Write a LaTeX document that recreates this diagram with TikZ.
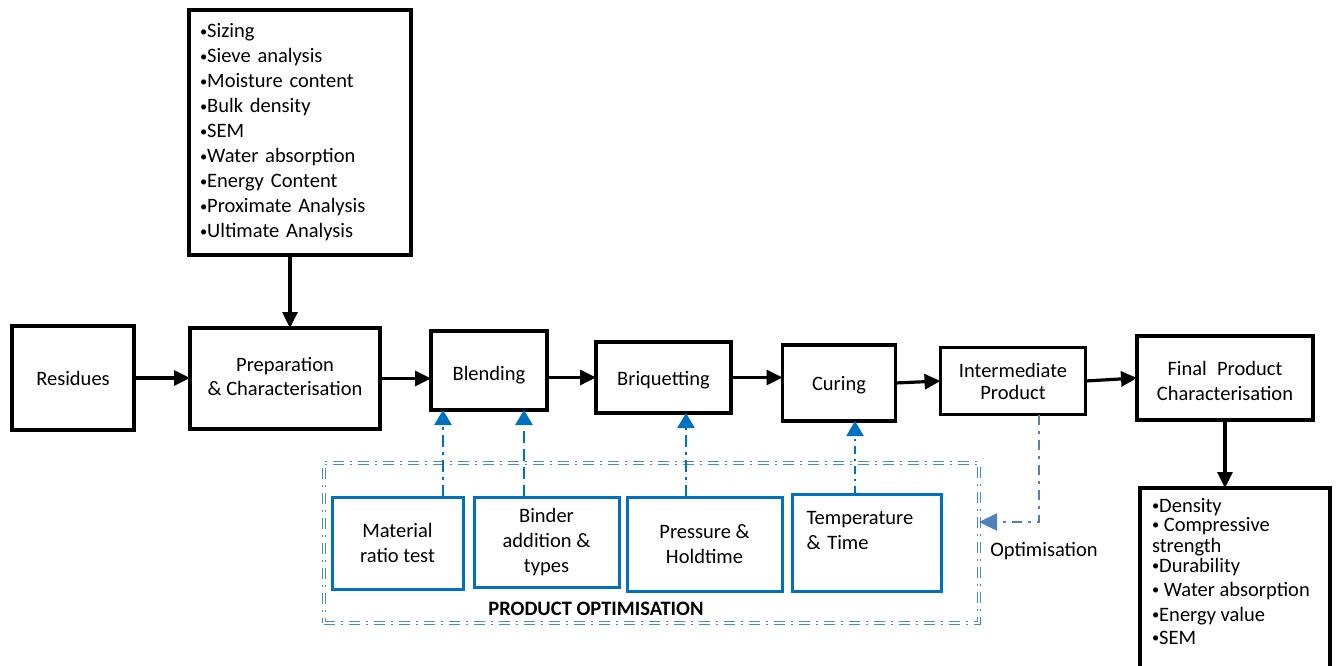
\documentclass[tikz,border=0pt]{standalone}
\usepackage{fontspec}
\setmainfont{Carlito}
\usetikzlibrary{arrows.meta,calc}
\definecolor{flowblue}{RGB}{0,112,192}
\definecolor{frameblue}{RGB}{68,138,206}
\definecolor{feedblue}{RGB}{79,129,189}
% small list bullet
\newcommand\listdot{\raisebox{1.4pt}{\fontsize{14.5}{14.5}\selectfont •}}

\begin{document}
\begin{tikzpicture}[x=1pt,y=-1pt,
  every node/.style={font=\fontsize{20.5}{25}\selectfont, inner sep=0pt, outer sep=0pt},
  stage/.style={draw=black, line width=3.2pt, align=center},
  trial/.style={draw=flowblue, line width=3pt, align=center},
  flow/.style={line width=3.2pt, -{Triangle[length=16pt,width=15pt]}},
  tune/.style={draw=flowblue, line width=2.6pt, -{Triangle[length=15pt,width=17pt]}},
  feedback/.style={draw=feedblue, line width=2.4pt, dash pattern=on 10pt off 6pt on 3pt off 6pt,
    -{Triangle[length=18pt,width=17pt]}},
  optframe/.style={draw=frameblue, line width=1.2pt, double=white, double distance=2.2pt,
    dash pattern=on 11pt off 6pt on 2pt off 6pt},
]
\useasboundingbox (0,0) rectangle (1338,666);

% main process chain
\node[stage, minimum width=122, minimum height=104, text height=15.2pt, text depth=0pt] (res) at (73,378) {Residues};
\node[stage, minimum width=190, minimum height=101, font=\fontsize{20.5}{24}\selectfont] (prep) at (285,378.5)
  {Preparation\\\& Characterisation\rule[-4pt]{0pt}{4pt}};
\node[stage, minimum width=222, minimum height=245, text width=200, align=left] (props) at (300,132.5)
  {\listdot Sizing\\\listdot Sieve analysis\\\listdot Moisture content\\\listdot Bulk density\\\listdot SEM\\\listdot Water absorption\\\listdot Energy Content\\\listdot Proximate Analysis\\\listdot Ultimate Analysis};
\node[stage, minimum width=116, minimum height=79, text height=20.2pt, text depth=0pt] (blend) at (489,370.5) {Blending};
\node[stage, minimum width=135, minimum height=71, text height=16.2pt, text depth=0pt] (briq) at (663.5,377.5) {Briquetting};
\node[stage, minimum width=113, minimum height=76, text height=15.2pt, text depth=0pt] (cur) at (839,383) {Curing};
\node[stage, minimum width=145, minimum height=67, font=\fontsize{20.5}{22}\selectfont] (inter) at (1013,381) {Intermediate\\Product};
\node[stage, minimum width=176, minimum height=84] (final) at (1225,378)
  {\rule{0pt}{21pt}Final\enspace Product\\Characterisation};
\node[stage, minimum width=190, minimum height=220, anchor=north] (fprops) at (1235,488) {};
\node[anchor=north west, align=left] (fpropstext) at (1152,498)
  {\listdot Density\\[-6pt]\listdot\ Compressive\\[-4pt]strength\\[-5pt]\listdot Durability\\[-1pt]\listdot\ Water absorption\\\listdot Energy value\\[-2pt]\listdot SEM};

% optimisation trials
\node[optframe, minimum width=655, minimum height=160] (frame) at (651.5,543) {};
\node[font=\fontsize{20.5}{25}\selectfont\bfseries] (frametitle) at (596,609) {PRODUCT OPTIMISATION};
\node[trial, minimum width=131, minimum height=92] (mat) at (397.5,543) {Material\\ratio test};
\node[trial, minimum width=145, minimum height=90] (bind) at (546.5,542) {Binder\\addition \&\\types};
\node[trial, minimum width=155, minimum height=94] (press) at (704.5,544) {Pressure \&\\Holdtime};
\node[trial, minimum width=149, minimum height=97, text width=120, inner xsep=14.5pt, align=left] (temp)
  at (866.5,542.5) {Temperature\\\& Time\\\mbox{}};
\node (optlbl) at (1044,551) {Optimisation};

% chain connectors
\draw[flow] (res.east) -- (res.east -| prep.west);
\draw[flow] (prep.east) -- (prep.east -| blend.west);
\draw[flow] (briq.west -| blend.east) -- (briq.west);
\draw[flow] (briq.east) -- (briq.east -| cur.west);
\draw[flow] (cur.east) -- (inter.west);
\draw[flow] (inter.east) -- (final.west);
\draw[flow] (final.south) -- (final.south |- fprops.north);
\coordinate (pdrop) at ([xshift=-10pt]props.south);
\draw[flow] (pdrop) -- (pdrop |- prep.north);

% trial feeds
\coordinate (m1) at ([xshift=45.5pt]mat.north);
\coordinate (b1) at ([xshift=-22.5pt]bind.north);
\coordinate (p1) at ([xshift=-18.5pt]press.north);
\coordinate (t1) at ([xshift=-11.5pt]temp.north);
\draw[tune, dash pattern=on 12pt off 5pt on 3pt off 5pt] (m1) -- (m1 |- blend.south);
\draw[tune, dash pattern=on 12pt off 6pt] (b1) -- (b1 |- blend.south);
\draw[tune, dash pattern=on 12pt off 5pt on 3pt off 5pt] (p1) -- (p1 |- briq.south);
\draw[tune, line width=2.2pt, dash pattern=on 8pt off 5pt on 2pt off 5pt] (t1) -- (t1 |- cur.south);

% feedback loop
\coordinate (fb) at ([xshift=26pt]inter.south);
\draw[feedback] (fb) |- ([yshift=21pt]frame.east);
\end{tikzpicture}
\end{document}
